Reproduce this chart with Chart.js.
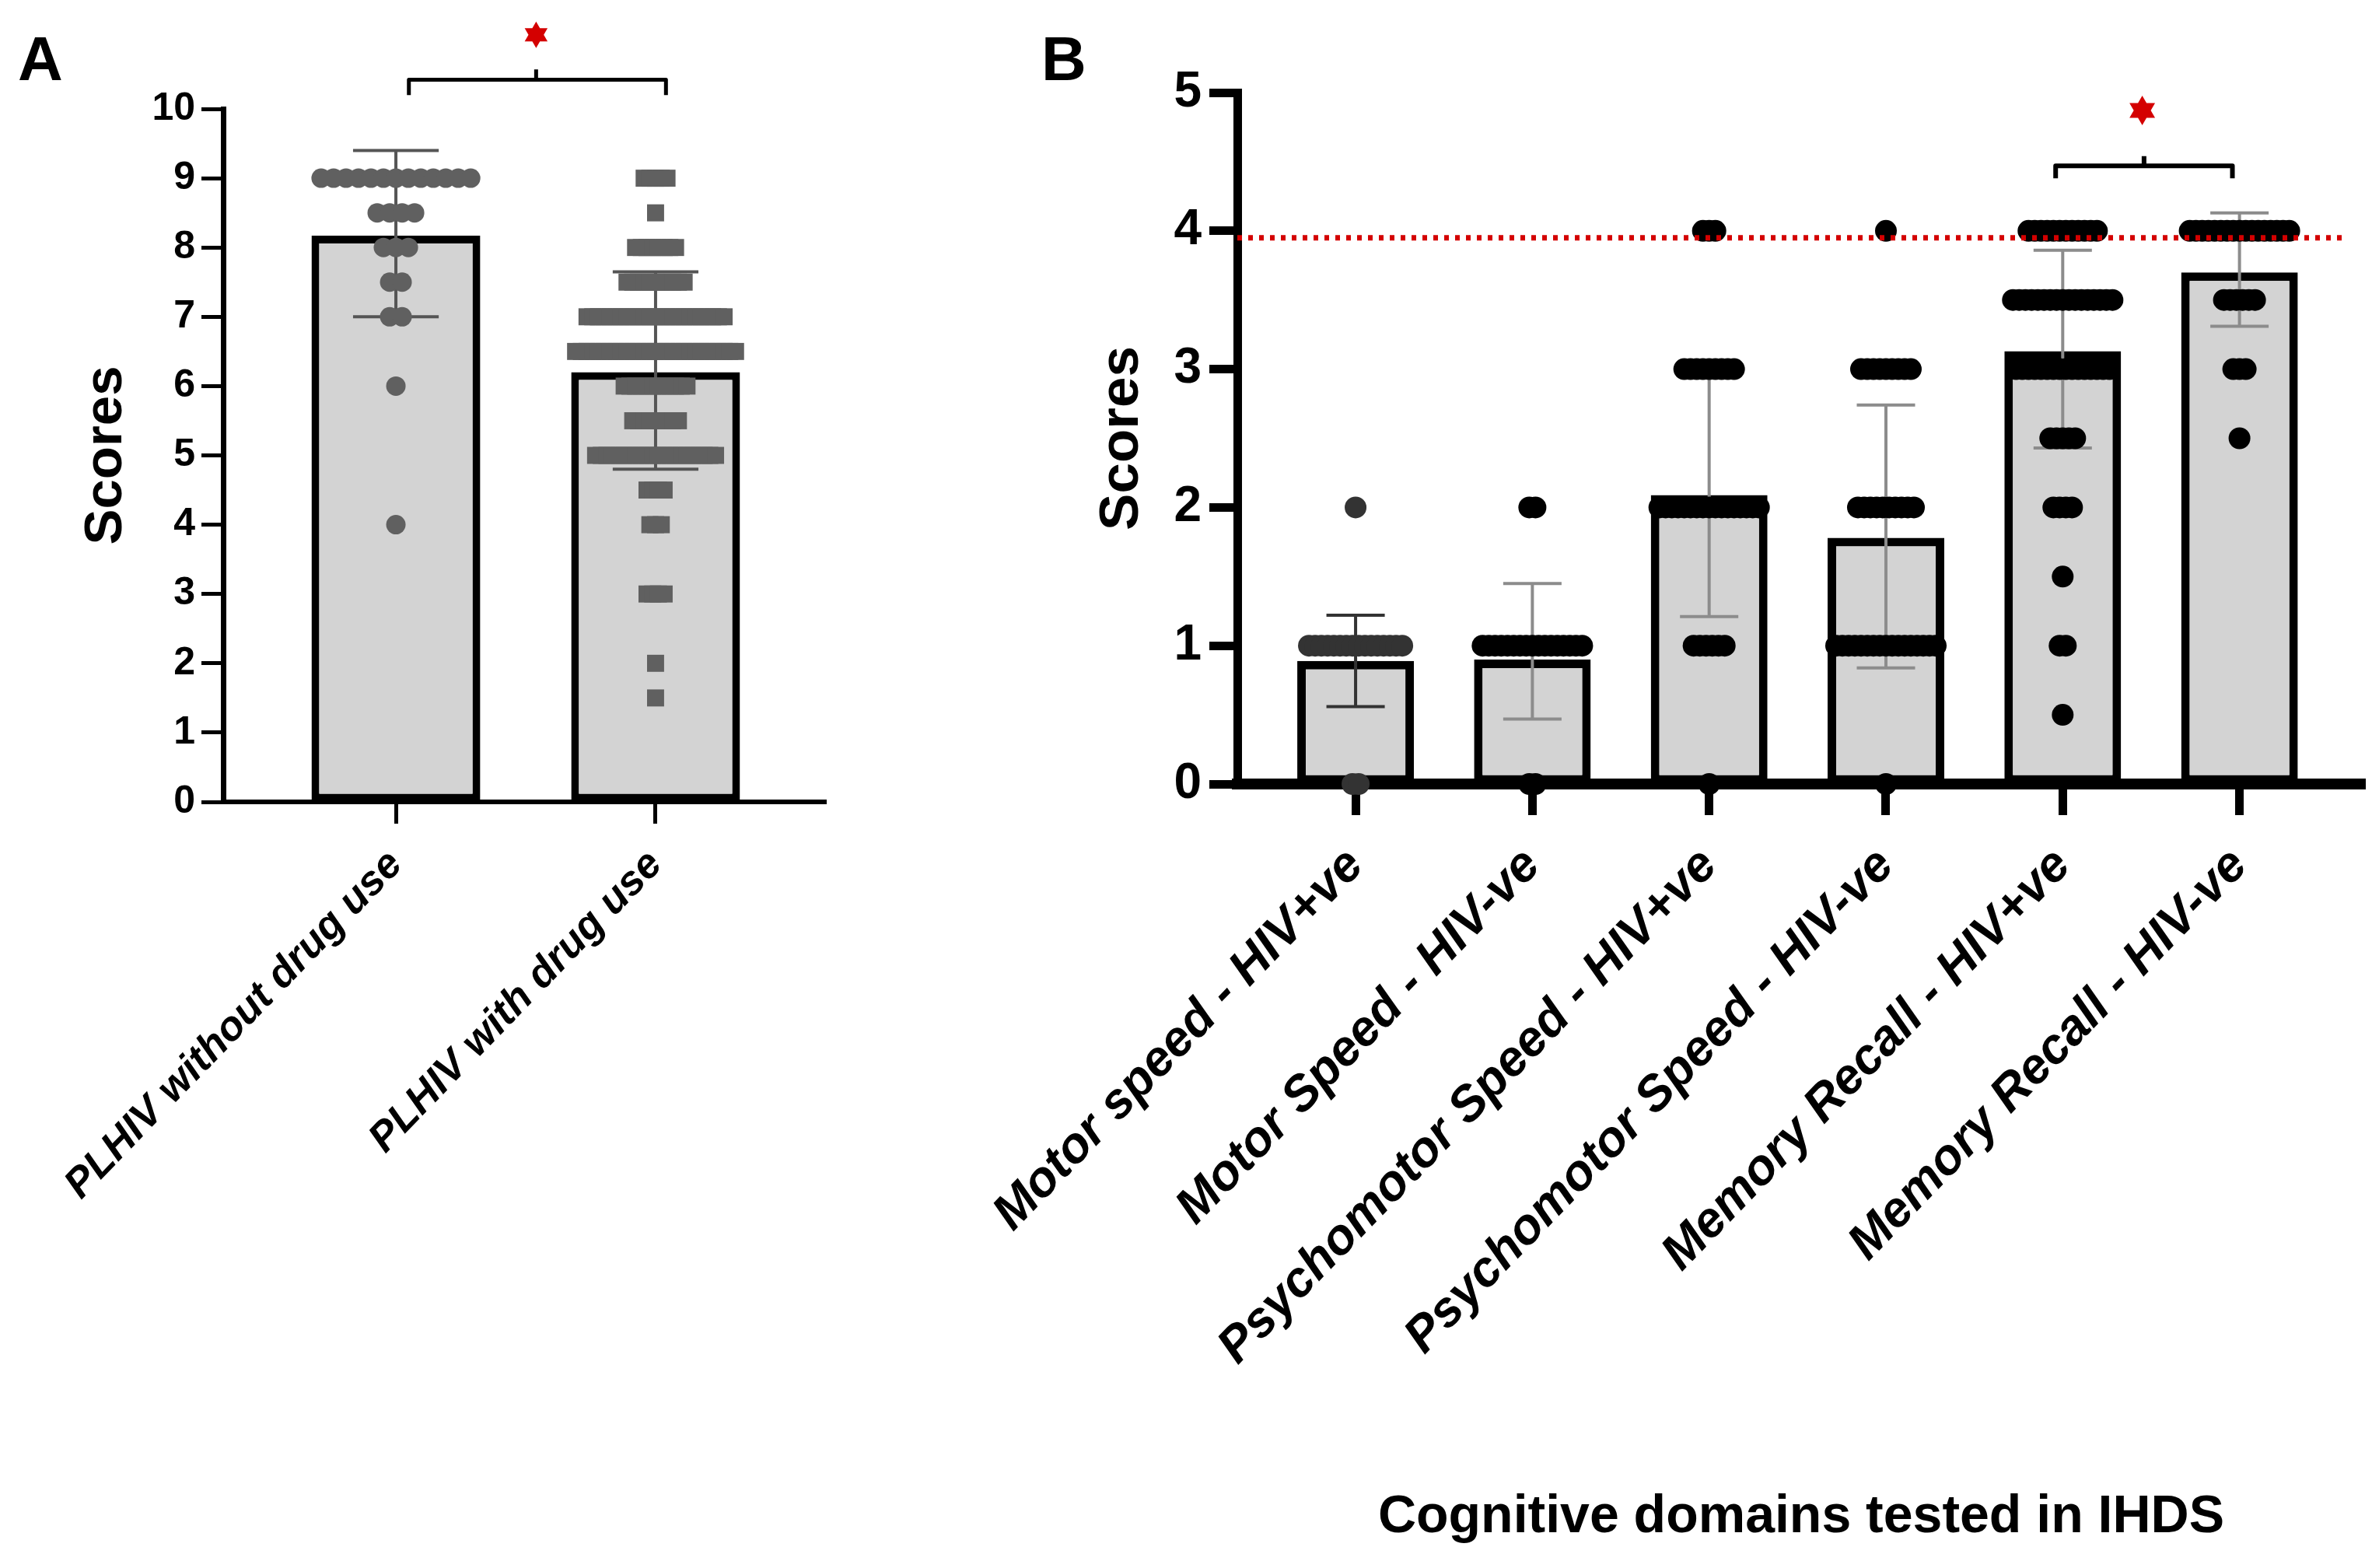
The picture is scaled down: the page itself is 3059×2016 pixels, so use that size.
<!DOCTYPE html>
<html>
<head>
<meta charset="utf-8">
<script src="https://cdn.jsdelivr.net/npm/chart.js@4.4.1/dist/chart.umd.min.js"></script>
<style>
  html, body { margin: 0; padding: 0; background: #fff; }
  body { width: 3059px; height: 2016px; position: relative; overflow: hidden; }
  canvas { position: absolute; top: 0; }
  #chartA { left: 0; }
  #chartB { left: 1180px; }
</style>
</head>
<body>
<canvas id="chartA" width="1180" height="2016"></canvas>
<canvas id="chartB" width="1879" height="2016"></canvas>
<script>
const FONT = "'Liberation Sans', Arial, sans-serif";

// ---- Panel A: PLHIV with / without drug use ----
const aGroups = ['PLHIV without drug use', 'PLHIV with drug use'];
const aMeans = [8.17, 6.2];
const aLow = [7.0, 4.8];
const aHigh = [9.4, 7.65];
// individual scores (value levels and how many subjects sit on each)
const noDrugScores = [9, 8.5, 8, 7.5, 7, 6, 4];
const noDrugCounts = [13, 4, 3, 2, 2, 1, 1];
const drugScores = [9, 8.5, 8, 7.5, 7, 6.5, 6, 5.5, 5, 4.5, 4, 3, 2, 1.5];
const drugCounts = [5, 1, 8, 11, 25, 29, 12, 9, 22, 4, 3, 4, 1, 1];

// ---- Panel B: cognitive domains tested in IHDS ----
const bDomains = ['Motor speed - HIV+ve', 'Motor Speed - HIV-ve', 'Psychomotor Speed - HIV+ve',
  'Psychomotor Speed - HIV-ve', 'Memory Recall - HIV+ve', 'Memory Recall - HIV-ve'];
const bMeans = [0.89, 0.9, 2.09, 1.78, 3.13, 3.7];
const bLow = [0.56, 0.47, 1.21, 0.84, 2.43, 3.31];
const bHigh = [1.22, 1.45, 2.97, 2.74, 3.86, 4.13];
const motorPosScores = [0, 1, 2];
const motorPosCounts = [2, 16, 1];
const motorNegScores = [0, 1, 2];
const motorNegCounts = [2, 17, 2];
const psychoPosScores = [0, 1, 2, 3, 4];
const psychoPosCounts = [1, 6, 17, 9, 3];
const psychoNegScores = [0, 1, 2, 3, 4];
const psychoNegCounts = [1, 17, 10, 9, 1];
const memoryPosScores = [0.5, 1, 1.5, 2, 2.5, 3, 3.5, 4];
const memoryPosCounts = [1, 2, 1, 4, 5, 16, 17, 12];
const memoryNegScores = [2.5, 3, 3.5, 4];
const memoryNegCounts = [1, 3, 6, 17];
const cutoff = 3.95;

// spread the points of one group side by side around its category
function swarm(cat, scores, counts, step) {
  const pts = [];
  scores.forEach((s, j) => {
    const n = counts[j];
    for (let k = 0; k < n; k++) {
      pts.push({ x: cat + (k - (n - 1) / 2) * step, y: s });
    }
  });
  return pts;
}

function errorBarPlugin(low, high, colors, cap, width) {
  return {
    id: 'errorBars',
    afterDatasetDraw(chart, args) {
      if (args.meta.type !== 'bar') return;
      const { ctx, scales: { x, y } } = chart;
      const half = (x.getPixelForValue(cap) - x.getPixelForValue(0)) / 2;
      ctx.save();
      ctx.lineWidth = width;
      low.forEach((lo, i) => {
        const px = x.getPixelForValue(i);
        const yLo = y.getPixelForValue(lo);
        const yHi = y.getPixelForValue(high[i]);
        ctx.strokeStyle = colors[i];
        ctx.beginPath();
        ctx.moveTo(px, yLo); ctx.lineTo(px, yHi);
        ctx.moveTo(px - half, yLo); ctx.lineTo(px + half, yLo);
        ctx.moveTo(px - half, yHi); ctx.lineTo(px + half, yHi);
        ctx.stroke();
      });
      ctx.restore();
    }
  };
}

function hexagram(ctx, cx, cy, r) {
  ctx.beginPath();
  for (let k = 0; k < 12; k++) {
    const ang = -Math.PI / 2 + k * Math.PI / 6;
    const rr = k % 2 === 0 ? r : r / Math.sqrt(3);
    ctx.lineTo(cx + rr * Math.cos(ang), cy + rr * Math.sin(ang));
  }
  ctx.closePath();
  ctx.fill();
}

// significance bracket + red star, and the panel letter
function markPlugin(sig, letter) {
  return {
    id: 'marks',
    afterDraw(chart) {
      const { ctx, scales: { x, y } } = chart;
      ctx.save();
      ctx.strokeStyle = '#000';
      ctx.lineWidth = sig.lineWidth;
      ctx.lineJoin = 'round';
      const x1 = x.getPixelForValue(sig.from), x2 = x.getPixelForValue(sig.to);
      const xc = x.getPixelForValue(sig.mid);
      const yb = y.getPixelForValue(sig.y), ye = y.getPixelForValue(sig.yEnd), yt = y.getPixelForValue(sig.yTop);
      ctx.beginPath();
      ctx.moveTo(x1, ye); ctx.lineTo(x1, yb); ctx.lineTo(x2, yb); ctx.lineTo(x2, ye);
      ctx.moveTo(xc, yb); ctx.lineTo(xc, yt);
      ctx.stroke();
      ctx.fillStyle = '#d40000';
      hexagram(ctx, x.getPixelForValue(sig.starX), y.getPixelForValue(sig.starY), sig.starR);
      ctx.fillStyle = '#000';
      ctx.font = 'bold 80px ' + FONT;
      ctx.textBaseline = 'alphabetic';
      ctx.fillText(letter.text, letter.x, letter.y);
      ctx.restore();
    }
  };
}

Chart.defaults.font.family = FONT;
Chart.defaults.color = '#000';

// ---------- chart A ----------
new Chart(document.getElementById('chartA'), {
  type: 'bar',
  data: {
    datasets: [
      {
        type: 'bar',
        data: aMeans.map((m, i) => ({ x: i, y: m })),
        backgroundColor: '#d3d3d3',
        borderColor: '#000',
        borderWidth: 10,
        borderSkipped: false,
        barPercentage: 0.65,
        categoryPercentage: 1,
        order: 3
      },
      {
        type: 'scatter',
        data: swarm(0, noDrugScores, noDrugCounts, 0.048),
        pointStyle: 'circle',
        pointRadius: 12.5,
        backgroundColor: '#606060',
        borderWidth: 0,
        clip: false,
        order: 2
      },
      {
        type: 'scatter',
        data: swarm(1, drugScores, drugCounts, 0.022),
        pointStyle: 'rect',
        pointRadius: 15.5,
        backgroundColor: '#606060',
        borderWidth: 0,
        clip: false,
        order: 2
      }
    ]
  },
  options: {
    responsive: false,
    devicePixelRatio: 1,
    animation: false,
    layout: { padding: { left: 0, top: 140, right: 118, bottom: 0 } },
    plugins: { legend: { display: false }, tooltip: { enabled: false } },
    scales: {
      x: {
        type: 'linear',
        offset: false,
        min: -0.665,
        max: 1.656,
        afterBuildTicks: ax => { ax.ticks = aGroups.map((g, i) => ({ value: i })); },
        afterFit: ax => { ax.height = 985; ax.paddingLeft = 0; ax.paddingRight = 0; },
        border: { color: '#000', width: 6 },
        grid: { offset: false, drawOnChartArea: false, tickLength: 28, tickWidth: 5, tickColor: '#000' },
        ticks: {
          autoSkip: false, minRotation: 46, maxRotation: 46, padding: 22,
          font: { size: 53, weight: 'bold', style: 'italic' },
          callback: v => aGroups[v]
        }
      },
      y: {
        min: 0,
        max: 10,
        afterFit: ax => { ax.width = 287; },
        border: { color: '#000', width: 7 },
        grid: { drawOnChartArea: false, tickLength: 28, tickWidth: 5, tickColor: '#000' },
        ticks: { stepSize: 1, padding: 8, font: { size: 50, weight: 'bold' } },
        title: { display: true, text: 'Scores', font: { size: 69, weight: 'bold' }, padding: { top: 96, bottom: 0 } }
      }
    }
  },
  plugins: [
    errorBarPlugin(aLow, aHigh, ['#555', '#555'], 0.33, 4),
    markPlugin({ from: 0.05, to: 1.04, mid: 0.54, y: 10.42, yEnd: 10.2, yTop: 10.57,
                 starX: 0.54, starY: 11.07, starR: 17, lineWidth: 5 },
               { text: 'A', x: 23, y: 103 })
  ]
});

// ---------- chart B ----------
const bScoreSets = [motorPosScores, motorNegScores, psychoPosScores, psychoNegScores, memoryPosScores, memoryNegScores];
const bCountSets = [motorPosCounts, motorNegCounts, psychoPosCounts, psychoNegCounts, memoryPosCounts, memoryNegCounts];
const bXMin = -0.669, bXMax = 5.71;

new Chart(document.getElementById('chartB'), {
  type: 'bar',
  data: {
    datasets: [
      {
        type: 'line',
        data: [{ x: bXMin, y: cutoff }, { x: 5.61, y: cutoff }],
        borderColor: '#d40000',
        borderWidth: 7,
        borderDash: [6, 8],
        pointRadius: 0,
        clip: false,
        order: 1
      },
      {
        type: 'bar',
        data: bMeans.map((m, i) => ({ x: i, y: m })),
        backgroundColor: '#d3d3d3',
        borderColor: '#000',
        borderWidth: 11,
        borderSkipped: false,
        barPercentage: 0.66,
        categoryPercentage: 1,
        order: 3
      },
      ...bScoreSets.map((scores, i) => ({
        type: 'scatter',
        data: swarm(i, scores, bCountSets[i], 0.0352),
        pointStyle: 'circle',
        pointRadius: 14,
        backgroundColor: i === 0 ? '#333' : '#000',
        borderWidth: 0,
        clip: false,
        order: 2
      }))
    ]
  },
  options: {
    responsive: false,
    devicePixelRatio: 1,
    animation: false,
    layout: { padding: { left: 0, top: 119, right: 18, bottom: 0 } },
    plugins: { legend: { display: false }, tooltip: { enabled: false } },
    scales: {
      x: {
        type: 'linear',
        offset: false,
        min: bXMin,
        max: bXMax,
        afterBuildTicks: ax => { ax.ticks = bDomains.map((d, i) => ({ value: i })); },
        afterFit: ax => { ax.height = 1008; ax.paddingLeft = 0; ax.paddingRight = 0; },
        border: { color: '#000', width: 14 },
        grid: { offset: false, drawOnChartArea: false, tickLength: 40, tickWidth: 11, tickColor: '#000' },
        ticks: {
          autoSkip: false, minRotation: 46, maxRotation: 46, padding: 28,
          font: { size: 64, weight: 'bold', style: 'italic' },
          callback: v => bDomains[v]
        },
        title: { display: true, text: 'Cognitive domains tested in IHDS', font: { size: 68, weight: 'bold' }, padding: { top: 0, bottom: 24 } }
      },
      y: {
        min: 0,
        max: 5,
        afterFit: ax => { ax.width = 411; },
        border: { color: '#000', width: 11 },
        grid: { drawOnChartArea: false, tickLength: 36, tickWidth: 11, tickColor: '#000' },
        ticks: { stepSize: 1, padding: 10, font: { size: 64, weight: 'bold' } },
        title: { display: true, text: 'Scores', font: { size: 71, weight: 'bold' }, padding: { top: 221, bottom: 0 } }
      }
    }
  },
  plugins: [
    errorBarPlugin(bLow, bHigh, ['#333', '#8c8c8c', '#8c8c8c', '#8c8c8c', '#8c8c8c', '#8c8c8c'], 0.33, 4),
    markPlugin({ from: 3.96, to: 4.96, mid: 4.46, y: 4.47, yEnd: 4.38, yTop: 4.54,
                 starX: 4.45, starY: 4.87, starR: 19, lineWidth: 6 },
               { text: 'B', x: 1339 - 1180, y: 103 })
  ]
});
</script>
</body>
</html>
